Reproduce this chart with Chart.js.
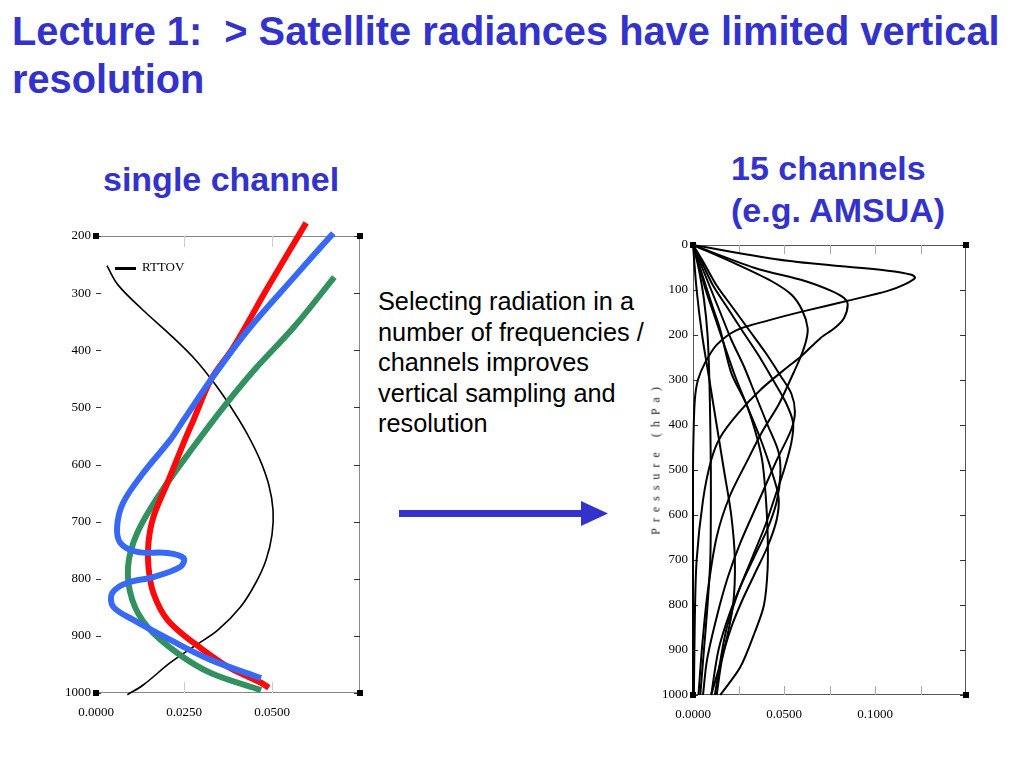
<!DOCTYPE html>
<html>
<head>
<meta charset="utf-8">
<script src="https://cdn.jsdelivr.net/npm/chart.js@4.4.1/dist/chart.umd.min.js"></script>
<style>
  html, body { margin: 0; padding: 0; background: #fff; }
  body { width: 1024px; height: 768px; position: relative; overflow: hidden; font-family: Arial, "Liberation Sans", sans-serif; }
  .txt { position: absolute; white-space: nowrap; }
  .blue { color: rgb(51, 51, 204); font-weight: bold; }
  #title { left: 12px; top: 7px; font-size: 39.8px; line-height: 48px; }
  #single { left: 103px; top: 159px; font-size: 34px; line-height: 40px; }
  #fifteen { left: 731px; top: 147px; font-size: 34px; line-height: 42px; }
  #body { left: 378px; top: 286px; font-size: 25.3px; line-height: 30.5px; color: #000; }
  canvas { position: absolute; }
  #leftChart { left: 36px; top: 210px; }
  #rightChart { left: 630px; top: 225px; }
  #legend { position: absolute; left: 115px; top: 259px; font-family: "Liberation Serif", serif; font-size: 13px; color: #000; }
  #legend span.ln { display: inline-block; width: 21px; height: 0; border-top: 3px solid #000; vertical-align: middle; margin-right: 6px; }
  #ytitle { position: absolute; left: 656px; top: 458px; transform: translate(-50%, -50%) rotate(-90deg); font-family: "Liberation Serif", serif; font-size: 12px; letter-spacing: 6px; white-space: nowrap; color: #222; }
  #arrow { position: absolute; left: 395px; top: 498px; }
</style>
</head>
<body>
<div id="title" class="txt blue">Lecture 1:&nbsp; &gt; Satellite radiances have limited vertical<br>resolution</div>
<div id="single" class="txt blue">single channel</div>
<div id="fifteen" class="txt blue">15 channels<br>(e.g. AMSUA)</div>
<div id="body" class="txt">Selecting radiation in a<br>number of frequencies /<br>channels improves<br>vertical sampling and<br>resolution</div>

<canvas id="leftChart" width="344" height="520"></canvas>
<canvas id="rightChart" width="360" height="500"></canvas>
<div id="legend"><span class="ln"></span>RTTOV</div>
<div id="ytitle">Pressure (hPa)</div>
<svg id="arrow" width="220" height="32">
  <rect x="4" y="12" width="186" height="7" fill="rgb(51,51,204)"></rect>
  <polygon points="186,3 213,15.5 186,28" fill="rgb(51,51,204)"></polygon>
</svg>

<script>
// ---- single channel weighting functions: [value, pressure hPa]
const rttovCurve = [[0.0031,252],[0.0063,286],[0.0134,330],[0.0211,373],[0.0283,417],[0.0340,461],[0.0389,505],[0.0431,548],[0.0466,592],[0.0491,636],[0.0503,680],[0.0500,723],[0.0483,767],[0.0454,807],[0.0411,849],[0.0346,890],[0.0277,919],[0.0211,947],[0.0134,986],[0.0089,1003]];
const redCurve = [[0.0597,177],[0.0489,289],[0.0391,394],[0.0326,452],[0.0277,522],[0.0249,562],[0.0203,632],[0.0163,692],[0.0149,737],[0.0149,779],[0.0163,825],[0.0203,872],[0.0277,912],[0.0374,954],[0.0469,982],[0.0491,991]];
const blueCurve = [[0.0674,195],[0.0563,272],[0.0431,365],[0.0326,452],[0.0249,522],[0.0211,557],[0.0134,615],[0.0077,667],[0.0060,709],[0.0069,737],[0.0117,753],[0.0203,755],[0.0249,764],[0.0240,779],[0.0163,797],[0.0089,807],[0.0046,825],[0.0049,849],[0.0106,872],[0.0211,907],[0.0326,942],[0.0469,974]];
const greenCurve = [[0.0677,272],[0.0563,359],[0.0449,435],[0.0363,499],[0.0277,569],[0.0183,650],[0.0117,720],[0.0091,779],[0.0103,837],[0.0146,884],[0.0231,930],[0.0326,965],[0.0469,995]];

const leftXTicks = [0, 0.025, 0.05, 0.075];
const leftYTicks = [200, 300, 400, 500, 600, 700, 800, 900, 1000];

// ---- 15 channel (AMSU-A) weighting functions: [value, pressure hPa]
const chA = [[0,0],[0.052,35],[0.107,57],[0.12,66],[0.122,73],[0.116,88],[0.107,102],[0.085,124],[0.061,147],[0.042,167],[0.024,189],[0.013,222],[0.0066,262],[0.0027,300],[0.001,344],[0.0003,420],[0,500],[0,1000]];
const chB = [[0,0],[0.034,51],[0.0615,80],[0.076,102],[0.083,118],[0.085,133],[0.083,162],[0.078,184],[0.070,207],[0.059,249],[0.052,271],[0.037,322],[0.025,373],[0.015,427],[0.010,478],[0.0055,567],[0.002,700],[0.001,833],[0.0005,1000]];
const chC = [[0,0],[0.0247,44],[0.043,80],[0.054,110],[0.060,145],[0.063,185],[0.062,215],[0.059,250],[0.054,295],[0.047,355],[0.038,415],[0.030,478],[0.020,560],[0.013,649],[0.008,773],[0.005,893],[0.003,1000]];
const chD = [[0,0],[0.003,50],[0.006,120],[0.008,200],[0.009,300],[0.0095,400],[0.0098,500],[0.0098,600],[0.0095,700],[0.008,800],[0.006,900],[0.004,1000]];
const chE1 = [[0,0],[0.006,40],[0.013,90],[0.022,140],[0.031,190],[0.040,240],[0.048,290],[0.054,330],[0.056,370],[0.054,410],[0.046,478],[0.036,570],[0.026,662],[0.019,740],[0.013,827],[0.0077,922],[0.0055,1000]];
const chE2 = [[0,0],[0.005,40],[0.011,90],[0.019,140],[0.027,190],[0.036,245],[0.044,300],[0.051,350],[0.055,395],[0.054,440],[0.050,500],[0.045,560],[0.040,620],[0.033,690],[0.025,770],[0.018,860],[0.012,1000]];
const chF1 = [[0,0],[0.004,40],[0.009,90],[0.015,150],[0.021,210],[0.028,270],[0.034,330],[0.041,400],[0.047,460],[0.048,510],[0.046,570],[0.041,630],[0.034,690],[0.027,750],[0.020,820],[0.014,900],[0.010,1000]];
const chF2 = [[0,0],[0.003,40],[0.007,100],[0.012,160],[0.017,220],[0.023,290],[0.030,360],[0.037,430],[0.043,500],[0.047,560],[0.046,610],[0.041,670],[0.034,730],[0.027,790],[0.021,850],[0.016,920],[0.013,1000]];
const chG = [[0,0],[0.003,40],[0.007,90],[0.011,140],[0.015,189],[0.021,284],[0.029,351],[0.034,411],[0.038,478],[0.040,560],[0.041,640],[0.041,720],[0.039,800],[0.034,860],[0.026,938],[0.015,1000]];
const chH = [[0,0],[0.002,100],[0.005,200],[0.009,300],[0.013,400],[0.017,500],[0.021,600],[0.023,700],[0.022,800],[0.017,900],[0.010,1000]];
const amsuChannels = [chA, chB, chC, chD, chE1, chE2, chF1, chF2, chG, chH];

const rightXTicks = [0, 0.025, 0.05, 0.075, 0.1, 0.125, 0.15];
const rightXLabels = ['0.0000', '', '0.0500', '', '0.1000', '', ''];
const rightYTicks = [0, 100, 200, 300, 400, 500, 600, 700, 800, 900, 1000];

const toPoints = arr => arr.map(d => ({ x: d[0], y: d[1] }));

// draws the box, the corner squares and the inward tick marks
const framePlugin = {
  id: 'frame',
  beforeDatasetsDraw(chart, args, opts) {
    const { ctx, chartArea: a, scales: { x, y } } = chart;
    ctx.save();
    ctx.lineWidth = 1;
    ctx.strokeStyle = opts.lineColor;
    ctx.beginPath();
    ctx.moveTo(a.left, a.top + 0.5); ctx.lineTo(a.right, a.top + 0.5);
    ctx.moveTo(a.right - 0.5, a.top); ctx.lineTo(a.right - 0.5, a.bottom);
    ctx.moveTo(a.left, a.bottom - 0.5); ctx.lineTo(a.right, a.bottom - 0.5);
    if (opts.leftLine) { ctx.moveTo(a.left + 0.5, a.top); ctx.lineTo(a.left + 0.5, a.bottom); }
    ctx.stroke();
    // y ticks, right side and left side
    ctx.strokeStyle = '#333';
    ctx.beginPath();
    y.ticks.forEach(t => {
      const py = Math.round(y.getPixelForValue(t.value)) + 0.5;
      ctx.moveTo(a.right - 6, py); ctx.lineTo(a.right, py);
      ctx.moveTo(a.left, py); ctx.lineTo(a.left + 5, py);
    });
    ctx.stroke();
    // x ticks, top and bottom
    ctx.strokeStyle = opts.tickColor;
    ctx.beginPath();
    x.ticks.forEach((t, i) => {
      if (i === 0 || i === x.ticks.length - 1) return;
      const px = Math.round(x.getPixelForValue(t.value)) + 0.5;
      ctx.moveTo(px, a.top); ctx.lineTo(px, a.top + opts.xTickLen);
      ctx.moveTo(px, a.bottom); ctx.lineTo(px, a.bottom - opts.xTickLen);
    });
    ctx.stroke();
    ctx.fillStyle = '#000';
    [[a.left, a.top], [a.right, a.top], [a.left, a.bottom], [a.right, a.bottom]].forEach(c => {
      ctx.fillRect(c[0] - 3, c[1] - 3, 6, 6);
    });
    ctx.restore();
  }
};

const tickFont = { family: '"Liberation Serif", serif', size: 13 };

function fixedWidth(w) { return axis => { axis.width = w; }; }
function fixedHeight(h) { return axis => { axis.height = h; }; }

const leftChart = new Chart(document.getElementById('leftChart'), {
  type: 'scatter',
  data: {
    datasets: [
      { data: toPoints(blueCurve), borderColor: 'rgb(55,105,245)', borderWidth: 6 },
      { data: toPoints(redCurve), borderColor: 'rgb(250,10,10)', borderWidth: 6 },
      { data: toPoints(greenCurve), borderColor: 'rgb(50,145,95)', borderWidth: 6 },
      { data: toPoints(rttovCurve), borderColor: '#000', borderWidth: 1.6 },
    ].map(d => Object.assign(d, { showLine: true, pointRadius: 0, tension: 0.35, clip: false, borderCapStyle: 'butt' }))
  },
  options: {
    responsive: false,
    animation: false,
    layout: { padding: { top: 26, right: 20, left: 0, bottom: 0 } },
    plugins: {
      legend: { display: false },
      tooltip: { enabled: false },
      frame: { lineColor: '#888', tickColor: '#ccc', xTickLen: 11, leftLine: false }
    },
    scales: {
      x: {
        type: 'linear', min: 0, max: 0.075,
        afterBuildTicks: axis => { axis.ticks = leftXTicks.map(v => ({ value: v })); },
        afterFit: fixedHeight(37),
        grid: { display: false, drawTicks: false }, border: { display: false },
        ticks: { color: '#000', font: tickFont, padding: 12, autoSkip: false, maxRotation: 0,
          callback: v => (v > 0.07 ? '' : v.toFixed(4)) }
      },
      y: {
        type: 'linear', min: 200, max: 1000, reverse: true,
        afterBuildTicks: axis => { axis.ticks = leftYTicks.map(v => ({ value: v })); },
        afterFit: fixedWidth(60),
        grid: { display: false, drawTicks: false }, border: { display: false },
        ticks: { color: '#000', font: tickFont, padding: 5, autoSkip: false, callback: v => String(v) }
      }
    }
  },
  plugins: [framePlugin]
});

const rightChart = new Chart(document.getElementById('rightChart'), {
  type: 'scatter',
  data: {
    datasets: amsuChannels.map(ch => ({
      data: toPoints(ch), borderColor: '#000', borderWidth: 2,
      showLine: true, pointRadius: 0, tension: 0.3, clip: false
    }))
  },
  options: {
    responsive: false,
    animation: false,
    layout: { padding: { top: 20, right: 24, left: 0, bottom: 0 } },
    plugins: {
      legend: { display: false },
      tooltip: { enabled: false },
      frame: { lineColor: '#555', tickColor: '#aaa', xTickLen: 9, leftLine: true }
    },
    scales: {
      x: {
        type: 'linear', min: 0, max: 0.15,
        afterBuildTicks: axis => { axis.ticks = rightXTicks.map(v => ({ value: v })); },
        afterFit: fixedHeight(30),
        grid: { display: false, drawTicks: false }, border: { display: false },
        ticks: { color: '#000', font: tickFont, padding: 12, autoSkip: false, maxRotation: 0,
          callback: (v, i) => rightXLabels[i] }
      },
      y: {
        type: 'linear', min: 0, max: 1000, reverse: true,
        afterBuildTicks: axis => { axis.ticks = rightYTicks.map(v => ({ value: v })); },
        afterFit: fixedWidth(63),
        grid: { display: false, drawTicks: false }, border: { display: false },
        ticks: { color: '#000', font: tickFont, padding: 5, autoSkip: false, callback: v => String(v) }
      }
    }
  },
  plugins: [framePlugin]
});
</script>
</body>
</html>
